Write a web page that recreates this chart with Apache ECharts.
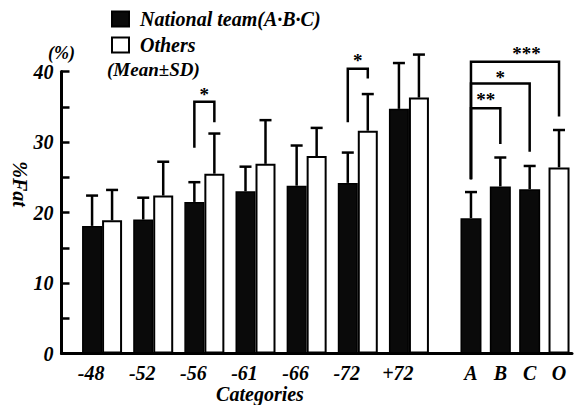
<!DOCTYPE html>
<html><head><meta charset="utf-8">
<script src="https://cdn.jsdelivr.net/npm/echarts@6/dist/echarts.min.js"></script>
<style>html,body{margin:0;padding:0;background:#fff}#c{width:575px;height:405px}</style>
</head><body><div id="c"></div>
<script>
// ---- data ----
const weightClasses = ['-48','-52','-56','-61','-66','-72','+72'];
const nationalMean  = [18.1, 19.0, 21.5, 23.0, 23.8, 24.2, 34.7];
const nationalSD    = [4.3, 3.1, 2.8, 3.5, 5.7, 4.3, 6.5];
const othersMean    = [18.9, 22.4, 25.5, 26.9, 28.0, 31.6, 36.3];
const othersSD      = [4.3, 4.8, 5.7, 6.2, 4.0, 5.2, 6.1];
const groupLabels   = ['A','B','C','O'];
const groupTeam     = [19.2, 23.7, 23.3, null];
const groupOthers   = [null, null, null, 26.4];
const groupSD       = [3.7, 4.1, 3.3, 5.3];
const yTicks        = [0, 10, 20, 30, 40];
// pair brackets: [category, top, leftLegEnd, rightLegEnd, starY]
const pairBrackets  = [[2, 35.7, 29.2, 32.8, 37.3], [5, 40.4, 32.8, 39.0, 42.1]];
const pairStars     = ['*', '*'];
// group brackets: [from, to, top, leftLegEnd, rightLegEnd, starY, starFraction]
const groupBrackets = [[0, 1, 34.8, 24.7, 29.7, 36.6, 0.5], [0, 2, 38.3, 24.7, 28.6, 39.8, 0.5], [0, 3, 41.4, 24.7, 33.6, 43.2, 0.63]];
const groupStars    = ['**', '*', '***'];
const legendNames   = ['National team(A·B·C)', 'Others'];

// ---- style ----
const FONT = 'Liberation Serif';
const BAR_W = 20, CAP = 12, LW = 2.5, STAR_FS = 19;
const txt = (size) => ({fontFamily: FONT, fontStyle: 'italic', fontWeight: 'bold', fontSize: size, color: '#000'});

function errRender(side) {
  return function (params, api) {
    const i = api.value(0), m = api.value(1), sd = api.value(2);
    const b = api.coord([i, m]), t = api.coord([i, m + sd]);
    const cx = b[0] + side * BAR_W / 2;
    const st = {stroke: '#000', lineWidth: LW};
    return {type: 'group', children: [
      {type: 'line', shape: {x1: cx, y1: b[1], x2: cx, y2: t[1]}, style: st},
      {type: 'line', shape: {x1: cx - CAP / 2, y1: t[1], x2: cx + CAP / 2, y2: t[1]}, style: st}
    ]};
  };
}
function starText(x, y, s) {
  return {type: 'text', x: x, y: y + STAR_FS * 0.22, style: {text: s, align: 'center', verticalAlign: 'middle',
    fontFamily: FONT, fontWeight: 'bold', fontSize: STAR_FS, fill: '#000'}};
}
function pairBracketRender(params, api) {
  const c = api.value(0);
  const tp = api.coord([c, api.value(1)]);
  const lx = tp[0] - BAR_W / 2, rx = tp[0] + BAR_W / 2;
  const ly = api.coord([c, api.value(2)])[1], ry = api.coord([c, api.value(3)])[1];
  const sy = api.coord([c, api.value(4)])[1];
  return {type: 'group', children: [
    {type: 'polyline', shape: {points: [[lx, ly], [lx, tp[1]], [rx, tp[1]], [rx, ry]]}, style: {stroke: '#000', lineWidth: LW, fill: null}},
    starText((lx + rx) / 2, sy, pairStars[params.dataIndex])
  ]};
}
function groupBracketRender(params, api) {
  const a = api.value(0), b = api.value(1);
  const pa = api.coord([a, api.value(2)]), pb = api.coord([b, api.value(2)]);
  const ly = api.coord([a, api.value(3)])[1], ry = api.coord([b, api.value(4)])[1];
  const sy = api.coord([a, api.value(5)])[1];
  const f = api.value(6);
  return {type: 'group', children: [
    {type: 'polyline', shape: {points: [[pa[0], ly], [pa[0], pa[1]], [pb[0], pa[1]], [pb[0], ry]]}, style: {stroke: '#000', lineWidth: LW, fill: null}},
    starText(pa[0] + f * (pb[0] - pa[0]), sy, groupStars[params.dataIndex])
  ]};
}

const blackStyle = {color: '#0a0a0a', borderColor: '#000', borderWidth: 1.5};
const whiteStyle = {color: '#fff', borderColor: '#000', borderWidth: 2};
const GRID_TOP = 71.5, GRID_BOTTOM = 51.5;

const chart = echarts.init(document.getElementById('c'), null, {renderer: 'svg'});
chart.setOption({
  animation: false,
  backgroundColor: '#fff',
  grid: [
    {left: 76.5, right: 140.5, top: GRID_TOP, bottom: GRID_BOTTOM},
    {left: 456.3, right: 1.3, top: GRID_TOP, bottom: GRID_BOTTOM},
    {left: 61.5, right: 3, top: GRID_TOP, bottom: GRID_BOTTOM}
  ],
  legend: {
    orient: 'vertical', left: 106, top: 4, itemWidth: 17, itemHeight: 15, itemGap: 6,
    icon: 'rect', selectedMode: false, data: legendNames,
    textStyle: Object.assign(txt(20), {padding: [0, 0, 0, 6], lineHeight: 18})
  },
  xAxis: [
    {gridIndex: 0, type: 'category', data: weightClasses, axisLine: {show: false}, axisTick: {show: false},
     axisLabel: Object.assign(txt(20), {margin: 9, padding: [0, 22, 0, 0], interval: 0})},
    {gridIndex: 1, type: 'category', data: groupLabels, axisLine: {show: false}, axisTick: {show: false},
     axisLabel: Object.assign(txt(20), {margin: 9, interval: 0})},
    {gridIndex: 2, type: 'value', min: 0, max: 1, axisLine: {show: true, lineStyle: {color: '#000', width: 3}},
     axisTick: {show: false}, axisLabel: {show: false}, splitLine: {show: false}}
  ],
  yAxis: [
    {gridIndex: 0, type: 'value', min: 0, max: 40, interval: 5, offset: 15,
     axisLine: {show: true, lineStyle: {color: '#000', width: 3}},
     axisTick: {show: true, inside: true, length: 8, lineStyle: {color: '#000', width: 2.5}},
     axisLabel: Object.assign(txt(20), {margin: 8, formatter: v => yTicks.indexOf(v) >= 0 ? String(v) : ''}),
     splitLine: {show: false},
     name: '(%)', nameLocation: 'end', nameGap: 8, nameTextStyle: Object.assign(txt(18), {align: 'center'})},
    {gridIndex: 1, type: 'value', min: 0, max: 40, show: false},
    {gridIndex: 2, type: 'value', min: 0, max: 1, show: false}
  ],
  graphic: {elements: [
    {type: 'text', x: 20, y: 184, rotation: -Math.PI / 2,
     style: {text: '%Fat', align: 'center', verticalAlign: 'middle', fontFamily: FONT, fontStyle: 'italic', fontWeight: 'bold', fontSize: 20, fill: '#000'}},
    {type: 'text', x: 107, y: 69,
     style: {text: '(Mean±SD)', align: 'left', verticalAlign: 'middle', fontFamily: FONT, fontStyle: 'italic', fontWeight: 'bold', fontSize: 19, lineHeight: 18, fill: '#000'}},
    {type: 'text', x: 260, y: 394,
     style: {text: 'Categories', align: 'center', verticalAlign: 'middle', fontFamily: FONT, fontStyle: 'italic', fontWeight: 'bold', fontSize: 20, fill: '#000'}}
  ]},
  series: [
    {type: 'bar', name: legendNames[0], xAxisIndex: 0, yAxisIndex: 0, data: nationalMean, barWidth: BAR_W, barGap: '0%', itemStyle: blackStyle},
    {type: 'bar', name: legendNames[1], xAxisIndex: 0, yAxisIndex: 0, data: othersMean, barWidth: BAR_W, barGap: '0%', itemStyle: whiteStyle},
    {type: 'bar', name: legendNames[0], xAxisIndex: 1, yAxisIndex: 1, data: groupTeam, barWidth: 21, barGap: '-100%', itemStyle: blackStyle},
    {type: 'bar', name: legendNames[1], xAxisIndex: 1, yAxisIndex: 1, data: groupOthers, barWidth: 21, barGap: '-100%', itemStyle: whiteStyle},
    {type: 'custom', xAxisIndex: 0, yAxisIndex: 0, renderItem: errRender(-1), z: 5,
     data: nationalMean.map((m, i) => [i, m, nationalSD[i]])},
    {type: 'custom', xAxisIndex: 0, yAxisIndex: 0, renderItem: errRender(1), z: 5,
     data: othersMean.map((m, i) => [i, m, othersSD[i]])},
    {type: 'custom', xAxisIndex: 1, yAxisIndex: 1, renderItem: errRender(0), z: 5,
     data: groupLabels.map((g, i) => [i, groupTeam[i] != null ? groupTeam[i] : groupOthers[i], groupSD[i]])},
    {type: 'custom', xAxisIndex: 0, yAxisIndex: 0, renderItem: pairBracketRender, z: 5, data: pairBrackets},
    {type: 'custom', xAxisIndex: 1, yAxisIndex: 1, renderItem: groupBracketRender, z: 5, data: groupBrackets}
  ]
});
</script>
</body></html>
